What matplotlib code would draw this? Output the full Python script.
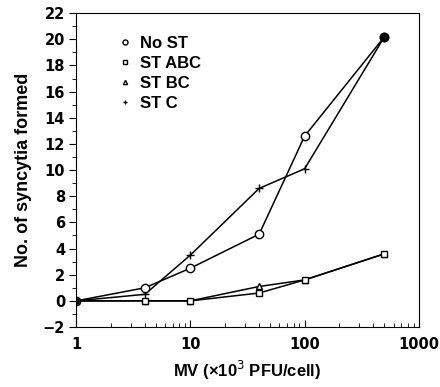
import numpy as np
import matplotlib.pyplot as plt
from matplotlib.ticker import FixedLocator, NullFormatter

plt.rcParams['font.family'] = ['Liberation Sans', 'DejaVu Sans']

# data
mv = [1, 4, 10, 40, 100, 500]
no_st = [0, 1.0, 2.5, 5.1, 12.6, 20.2]
st_abc = [0, 0, 0, 0.6, 1.6, 3.6]
st_bc = [0, 0, 0, 1.1, 1.6, 3.6]
st_c = [0, 0.5, 3.5, 8.6, 10.1, 20.2]

fig = plt.figure(figsize=(4.4, 3.87), dpi=100)
ax = fig.add_axes([0.173, 0.155, 0.779, 0.811])

ax.plot(mv, st_c, color='k', lw=1.1, marker='+', ms=6, mew=1.0, label='ST C')
ax.plot(mv, st_bc, color='k', lw=1.1, marker='^', ms=5, mfc='white', mew=1.0, label='ST BC')
ax.plot(mv, st_abc, color='k', lw=1.1, marker='s', ms=5, mfc='white', mew=1.0, label='ST ABC')
ax.plot(mv, no_st, color='k', lw=1.1, marker='o', ms=6, mfc='white', mew=1.0, label='No ST')
# last point appears filled
ax.plot(mv[-1:], no_st[-1:], 'o', color='k', ms=6)
ax.plot(mv[:1], no_st[:1], 'o', color='k', ms=4)

ax.set_xscale('log')
ax.set_xlim(1, 1000)
ax.set_ylim(-2, 22)
ax.set_yticks(np.arange(-2, 23, 2))
ax.set_yticklabels(['\u22122'] + [str(v) for v in range(0, 23, 2)])
ax.yaxis.set_minor_locator(FixedLocator(np.arange(-1, 22, 2)))
ax.xaxis.set_minor_formatter(NullFormatter())
ax.set_xticks([1, 10, 100, 1000])
ax.set_xticklabels(['1', '10', '100', '1000'])

ax.tick_params(axis='x', which='both', direction='in', top=False, pad=7)
ax.tick_params(axis='x', which='major', length=5)
ax.tick_params(axis='x', which='minor', length=3)
ax.tick_params(axis='y', which='both', direction='out', right=False, pad=3)
ax.tick_params(axis='y', which='major', length=5)
ax.tick_params(axis='y', which='minor', length=3)
for lab in ax.get_xticklabels() + ax.get_yticklabels():
    lab.set_fontfamily('DejaVu Sans')
    lab.set_fontweight('bold')
    lab.set_fontsize(10.5)

ax.set_xlabel('MV (\u00d710$^{3}$ PFU/cell)', fontsize=12, fontweight='bold', labelpad=5)
ax.set_ylabel('No. of syncytia formed', fontsize=13, fontweight='bold', labelpad=8)

handles, labels = ax.get_legend_handles_labels()
order = [3, 2, 1, 0]
leg = ax.legend([handles[i] for i in order], [labels[i] for i in order],
                loc='upper left', bbox_to_anchor=(0.1, 0.975), frameon=False,
                handlelength=0, handletextpad=0.9, markerscale=0.6,
                labelspacing=0.3, prop={'size': 12, 'weight': 'bold'})
for h in leg.legend_handles:
    h.set_linestyle('none')

fig.savefig('out.png', dpi=100)
